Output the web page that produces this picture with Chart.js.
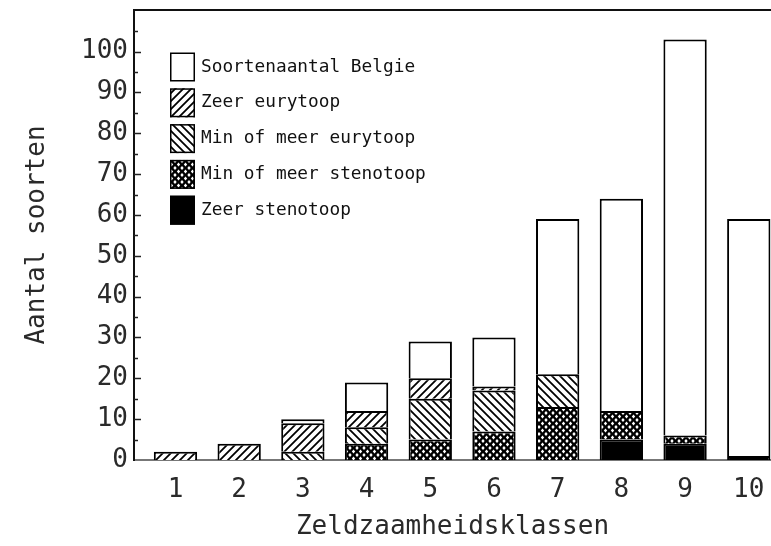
<!DOCTYPE html>
<html>
<head>
<meta charset="utf-8">
<script src="https://cdn.jsdelivr.net/npm/chart.js@4/dist/chart.umd.min.js"></script>
<style>
  html, body { margin: 0; padding: 0; background: #fff; overflow: hidden; }
  #wrap { width: 771px; height: 546px; }
</style>
</head>
<body>
<div id="wrap"><canvas id="c" width="771" height="546"></canvas></div>
<script>
// ---- data ----
const categories = [1, 2, 3, 4, 5, 6, 7, 8, 9, 10];
const yTickValues = [0, 10, 20, 30, 40, 50, 60, 70, 80, 90, 100];
const totalBelgie = [2, 4, 10, 19, 29, 30, 59, 64, 103, 59];
const zeerEurytoop = [2, 4, 7, 4, 5, 1, 0, 0, 0, 0];
const minMeerEurytoop = [0, 0, 2, 4, 10, 10, 8, 0, 0, 0];
const minMeerStenotoop = [0, 0, 0, 4, 5, 7, 13, 7, 2, 0];
const zeerStenotoop = [0, 0, 0, 0, 0, 0, 0, 5, 4, 1];
const seriesLabels = ['Soortenaantal Belgie', 'Zeer eurytoop', 'Min of meer eurytoop', 'Min of meer stenotoop', 'Zeer stenotoop'];
const xTitle = 'Zeldzaamheidsklassen';
const yTitle = 'Aantal soorten';

// ---- patterns ----
function hatchPattern(forward) {
  const s = 8;
  const c = document.createElement('canvas');
  c.width = s; c.height = s;
  const g = c.getContext('2d');
  g.fillStyle = '#fff'; g.fillRect(0, 0, s, s);
  g.strokeStyle = '#000'; g.lineWidth = 1.8; g.lineCap = 'square';
  g.beginPath();
  if (forward) {
    g.moveTo(0, s); g.lineTo(s, 0);
    g.moveTo(-2, 2); g.lineTo(2, -2);
    g.moveTo(s - 2, s + 2); g.lineTo(s + 2, s - 2);
  } else {
    g.moveTo(0, 0); g.lineTo(s, s);
    g.moveTo(s - 2, -2); g.lineTo(s + 2, 2);
    g.moveTo(-2, s - 2); g.lineTo(2, s + 2);
  }
  g.stroke();
  return g.createPattern(c, 'repeat');
}
function crossPattern() {
  const s = 7;
  const c = document.createElement('canvas');
  c.width = s; c.height = s;
  const g = c.getContext('2d');
  g.fillStyle = '#000'; g.fillRect(0, 0, s, s);
  g.fillStyle = '#fff';
  const pts = [[0, 0], [s, 0], [0, s], [s, s], [s / 2, s / 2]];
  pts.forEach(([x, y]) => {
    g.beginPath();
    g.moveTo(x, y - 2.1); g.lineTo(x + 1.7, y); g.lineTo(x, y + 2.1); g.lineTo(x - 1.7, y);
    g.closePath(); g.fill();
  });
  return g.createPattern(c, 'repeat');
}

const nz = arr => arr.map(v => (v === 0 ? null : v));
const remainder = totalBelgie.map((t, i) => t - zeerEurytoop[i] - minMeerEurytoop[i] - minMeerStenotoop[i] - zeerStenotoop[i]);

const border = { top: 2, bottom: 0, left: 2, right: 2 };
const common = { borderColor: '#000', borderWidth: border, borderSkipped: false, barPercentage: 0.68, categoryPercentage: 1, stack: 's' };

const datasets = [
  Object.assign({ label: seriesLabels[4], data: nz(zeerStenotoop), backgroundColor: '#000' }, common),
  Object.assign({ label: seriesLabels[3], data: nz(minMeerStenotoop), backgroundColor: crossPattern() }, common),
  Object.assign({ label: seriesLabels[2], data: nz(minMeerEurytoop), backgroundColor: hatchPattern(false) }, common),
  Object.assign({ label: seriesLabels[1], data: nz(zeerEurytoop), backgroundColor: hatchPattern(true) }, common),
  Object.assign({ label: seriesLabels[0], data: nz(remainder), backgroundColor: '#fff' }, common)
];

const FONT = "'DejaVu Sans Mono', monospace";

const framePlugin = {
  id: 'frame',
  afterDraw(chart) {
    const ctx = chart.ctx;
    const a = chart.chartArea;
    const y = chart.scales.y;
    ctx.save();
    // top border
    ctx.strokeStyle = '#111'; ctx.lineWidth = 2;
    ctx.beginPath(); ctx.moveTo(a.left, a.top); ctx.lineTo(a.right, a.top); ctx.stroke();
    // inside ticks every 5
    ctx.strokeStyle = '#222'; ctx.lineWidth = 1.5;
    for (let v = 5; v <= 105; v += 5) {
      const py = Math.round(y.getPixelForValue(v)) + 0.5;
      const len = (v % 10 === 0) ? 7 : 4;
      ctx.beginPath(); ctx.moveTo(a.left, py); ctx.lineTo(a.left + len, py); ctx.stroke();
    }
    ctx.restore();
  },
  afterDatasetsDraw(chart) {
    // legend drawn inside the plot area
    const ctx = chart.ctx;
    const ds = chart.data.datasets.slice().reverse();
    const bx = 170, bw = 25, bh = 29, y0 = 67, step = 35.8;
    ctx.save();
    ds.forEach((d, i) => {
      const cy = y0 + i * step;
      ctx.fillStyle = d.backgroundColor;
      ctx.fillRect(bx, cy - bh / 2, bw, bh);
      ctx.strokeStyle = '#000'; ctx.lineWidth = 1.5;
      ctx.strokeRect(bx + 0.75, cy - bh / 2 + 0.75, bw - 1.5, bh - 1.5);
      ctx.fillStyle = '#111';
      ctx.font = "17.8px " + FONT;
      ctx.textBaseline = 'middle';
      ctx.textAlign = 'left';
      ctx.fillText(d.label, 201, cy);
    });
    ctx.restore();
  }
};

new Chart(document.getElementById('c'), {
  type: 'bar',
  data: { labels: categories, datasets },
  options: {
    responsive: false,
    devicePixelRatio: 1,
    animation: false,
    layout: { padding: { top: 10, right: 0, left: 0, bottom: 0 } },
    plugins: { legend: { display: false }, tooltip: { enabled: false } },
    scales: {
      x: {
        type: 'linear',
        offset: false,
        min: 0.349,
        max: 10.349,
        stacked: true,
        grid: { display: false, drawTicks: false },
        border: { display: true, color: '#777', width: 2 },
        afterBuildTicks(scale) { scale.ticks = categories.map(v => ({ value: v })); },
        afterFit(scale) { scale.height = 86; scale.paddingLeft = 0; scale.paddingRight = 0; },
        ticks: { color: '#2a2a2a', font: { family: FONT, size: 26 }, padding: 15, autoSkip: false, maxRotation: 0 },
        title: { display: true, text: xTitle, color: '#2a2a2a', font: { family: FONT, size: 26 }, padding: { top: 0, bottom: 3 } }
      },
      y: {
        stacked: true,
        min: 0,
        max: 110.2,
        grid: { display: false, drawTicks: false },
        border: { display: true, color: '#111', width: 2 },
        afterBuildTicks(scale) { scale.ticks = yTickValues.map(v => ({ value: v })); },
        afterFit(scale) { scale.width = 134; scale.paddingTop = 0; scale.paddingBottom = 0; },
        ticks: { color: '#2a2a2a', font: { family: FONT, size: 26 }, padding: 6 },
        title: { display: true, text: yTitle, color: '#2a2a2a', font: { family: FONT, size: 26 }, padding: { top: 22, bottom: 0 } }
      }
    }
  },
  plugins: [framePlugin]
});
</script>
</body>
</html>
